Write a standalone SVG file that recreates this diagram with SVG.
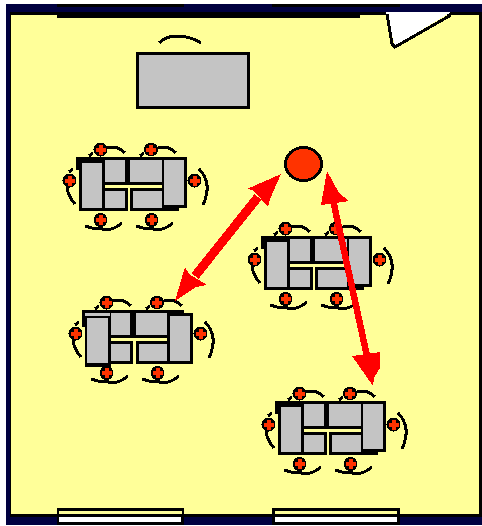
<svg xmlns="http://www.w3.org/2000/svg" xmlns:xlink="http://www.w3.org/1999/xlink" width="482" height="526" viewBox="0 0 482 526">
<style>
svg{shape-rendering:crispEdges}
.k{fill:#000}.g{fill:#c4c4c4}.y{fill:#ffff99}.n{fill:#000040}.w{fill:#fff}
.arc{fill:none;stroke:#000;stroke-width:3;stroke-linecap:butt}
.cross{fill:#ff3300}
.shaft{fill:none;stroke:#ff0000}
.head{fill:#ff0000}
</style>
<defs>
<g id="seat"><circle cx="0" cy="0" r="7" class="k"/><path class="cross" d="M-2-5h4v3h3v4h-3v3h-4v-3h-3v-4h3z"/></g>
<g id="seats">
<use xlink:href="#seat" href="#seat" x="100.500" y="149.500"/>
<use xlink:href="#seat" href="#seat" x="151" y="149.500"/>
<use xlink:href="#seat" href="#seat" x="69.500" y="180.500"/>
<use xlink:href="#seat" href="#seat" x="194.500" y="180.500"/>
<use xlink:href="#seat" href="#seat" x="100.500" y="220"/>
<use xlink:href="#seat" href="#seat" x="151.500" y="220"/>
<path class="arc" d="M89 156L93 153M107 147H114Q120 148 125 153"/>
<path class="arc" d="M140 156L144 153M158 147H165Q171 148 176 153"/>
<path class="arc" d="M73 169L69 172M67 187Q68 196 75 204"/>
<path class="arc" d="M199 169Q213 183 203 205"/>
<path class="arc" d="M85 226L92 228M92 228H100Q110 233 122 223"/>
<path class="arc" d="M136 226L143 228M143 228H151Q161 233 173 223"/>
</g>
<g id="tableA">
<path class="k" d="M76 157H187V208H179V211H79V170H76z"/>
<rect class="g" x="82" y="163" width="20" height="45"/>
<rect class="g" x="105" y="160" width="20" height="22"/>
<rect class="g" x="130" y="160" width="32" height="22"/>
<rect class="g" x="164" y="160" width="20" height="45"/>
<rect class="g" x="105" y="191" width="20" height="17"/>
<rect class="g" x="133" y="191" width="29" height="17"/>
<rect class="y" x="105" y="185" width="57" height="3"/>
<rect class="y" x="128" y="188" width="2" height="23"/>
</g>
</defs>
<rect class="w" width="482" height="526"/>
<g id="room">
<rect class="k" x="6" y="4" width="476" height="521"/>
<rect class="y" x="11" y="15" width="468" height="499"/>
<rect class="n" x="6" y="4" width="476" height="8"/>
<rect class="n" x="6" y="4" width="4" height="521"/>
<rect class="n" x="6" y="517" width="476" height="8"/>
<rect class="k" x="57" y="4" width="127" height="3"/>
<rect class="k" x="272" y="4" width="128" height="3"/>
</g>
<g id="blackboard"><rect class="k" x="57" y="12" width="303" height="6"/></g>
<g id="door">
<path class="w" d="M386 12H451L395 46z"/>
<path fill="none" stroke="#000" stroke-width="3" d="M387 14L392 44L395 47L451 15"/>
</g>
<g id="window1">
<rect class="k" x="57" y="508" width="127" height="17"/>
<rect class="y" x="59" y="511" width="123" height="3"/>
<rect class="w" x="59" y="517" width="122" height="5"/>
</g>
<g id="window2">
<rect class="k" x="272" y="508" width="128" height="17"/>
<rect class="y" x="275" y="511" width="122" height="3"/>
<rect class="w" x="275" y="517" width="122" height="5"/>
</g>
<g id="teacher-desk">
<rect x="137.500" y="53.500" width="111" height="54" fill="#c4c4c4" stroke="#000" stroke-width="3"/>
<path class="arc" d="M159 43Q166 36 177 36Q190 36 201 43"/>
</g>
<g id="table-1">
<use xlink:href="#tableA" href="#tableA"/>
<use xlink:href="#seats" href="#seats"/>
</g>
<g id="table-2">
<path class="k" d="M82 310H184V313H193V364H136V341H133V364H111V367H85V327H82z"/>
<rect class="g" x="85" y="313" width="25" height="3"/>
<rect class="g" x="87" y="318" width="21" height="45"/>
<rect class="g" x="111" y="313" width="19" height="22"/>
<rect class="g" x="136" y="313" width="31" height="22"/>
<rect class="g" x="170" y="316" width="20" height="45"/>
<rect class="g" x="111" y="344" width="19" height="17"/>
<rect class="g" x="139" y="344" width="28" height="17"/>
<rect class="y" x="111" y="338" width="56" height="3"/>
<rect class="y" x="133" y="341" width="3" height="26"/>
<use xlink:href="#seats" href="#seats" x="6" y="153"/>
</g>
<g id="table-3">
<use xlink:href="#tableA" href="#tableA" x="185" y="79"/>
<use xlink:href="#seats" href="#seats" x="185" y="79"/>
</g>
<g id="table-4">
<use xlink:href="#tableA" href="#tableA" x="199" y="244"/>
<use xlink:href="#seats" href="#seats" x="199" y="244"/>
</g>
<g id="student">
<ellipse cx="303.500" cy="164" rx="18" ry="16.500" fill="#ff3300" stroke="#000" stroke-width="3"/>
</g>
<g id="connectors">
<line class="shaft" stroke-width="9" x1="258" y1="197" x2="195" y2="276"/>
<path class="head" d="M281 174L247 189L253 190L268 207L270 199z"/>
<path class="head" d="M175 301L185 267L189 274L207 285L196 287z"/>
<line class="shaft" stroke-width="6.500" x1="333" y1="200" x2="367" y2="356"/>
<path class="head" d="M327 171L321 205L349 201L339 193z"/>
<path class="head" d="M373 386L352 356L380 352L380 368L374 378z"/>
</g>
</svg>
